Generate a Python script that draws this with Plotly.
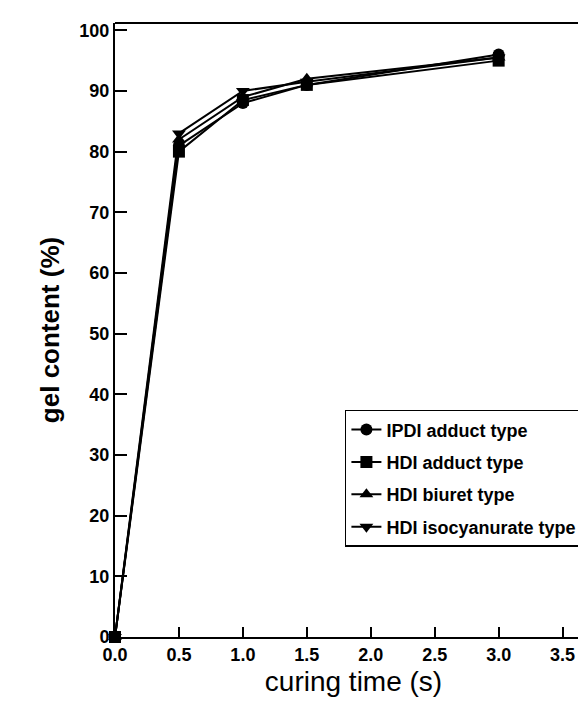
import plotly.graph_objects as go

curing_time = [0.0, 0.5, 1.0, 1.5, 3.0]
ipdi_adduct = [0, 81, 88, 91, 96]
hdi_adduct = [0, 80, 88.5, 91, 95]
hdi_biuret = [0, 82, 89, 92, 95.5]
hdi_isocyanurate = [0, 83, 90, 91.5, 95.5]

series_names = ["IPDI adduct type", "HDI adduct type", "HDI biuret type", "HDI isocyanurate type"]
series_values = [ipdi_adduct, hdi_adduct, hdi_biuret, hdi_isocyanurate]
symbols = ["circle", "square", "triangle-up", "triangle-down"]

x_ticks = [0.0, 0.5, 1.0, 1.5, 2.0, 2.5, 3.0, 3.5]
x_ticklabels = ["0.0", "0.5", "1.0", "1.5", "2.0", "2.5", "3.0", "3.5"]
y_ticks = [0, 10, 20, 30, 40, 50, 60, 70, 80, 90, 100]

FONT = "Liberation Sans, Arial, sans-serif"

fig = go.Figure()
for i, (name, vals, sym) in enumerate(zip(series_names, series_values, symbols)):
    fig.add_trace(go.Scatter(
        x=curing_time, y=vals, name=name, mode="lines+markers",
        line=dict(color="black", width=2),
        marker=dict(symbol=sym, size=12, color="black"),
        legendgroup=f"g{i}", cliponaxis=False,
    ))

fig.update_layout(
    width=586, height=707,
    margin=dict(l=107, r=2, t=15, b=78),
    paper_bgcolor="white", plot_bgcolor="white",
    font=dict(family=FONT, color="black"),
    showlegend=True,
    legend=dict(
        x=0.482, y=0.37, xanchor="left", yanchor="top",
        bordercolor="black", borderwidth=1.5, bgcolor="white",
        font=dict(size=18, family=FONT, color="black", weight="bold"),
        traceorder="grouped", tracegroupgap=6,
    ),
    xaxis=dict(
        range=[0, 3.73], tickvals=x_ticks, ticktext=x_ticklabels,
        showgrid=False, zeroline=False, showline=True, linecolor="black", linewidth=2,
        ticks="inside", ticklen=10, tickwidth=1.5, tickcolor="black",
        tickfont=dict(size=18, weight="bold"), automargin=False,
        title=dict(text="curing time (s)", font=dict(size=28), standoff=8),
    ),
    yaxis=dict(
        range=[0, 101.2], tickvals=y_ticks,
        showgrid=False, zeroline=False, showline=True, linecolor="black", linewidth=2,
        ticks="inside", ticklen=12, tickwidth=1.5, tickcolor="black",
        tickfont=dict(size=18, weight="bold"), automargin=False,
        title=dict(text="gel content (%)", font=dict(size=26, weight="bold"), standoff=12),
    ),
    shapes=[dict(type="line", xref="paper", yref="paper", x0=0, x1=1, y0=1, y1=1,
                 line=dict(color="black", width=2))],
)

fig.write_html("out.html")
